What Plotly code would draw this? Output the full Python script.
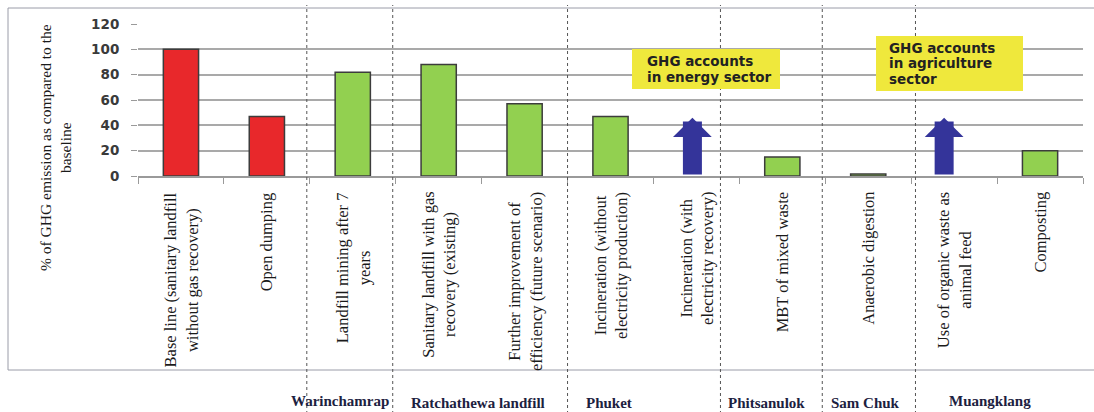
import plotly.graph_objects as go

# ---- data -------------------------------------------------------------
categories = [
    "Base line (sanitary landfill<br>without gas recovery)",
    "Open dumping",
    "Landfill mining after 7<br>years",
    "Sanitary landfill with gas<br>recovery (existing)",
    "Further improvement of<br>efficiency (future scenario)",
    "Incineration (without<br>electricity production)",
    "Incineration (with<br>electricity recovery)",
    "MBT of mixed waste",
    "Anaerobic digestion",
    "Use of organic waste as<br>animal feed",
    "Composting",
]
# % of GHG emission relative to the baseline (None = credited to another sector)
emission_pct = [100, 47, 82, 88, 57, 47, None, 15, 1.5, None, 20]
# scenarios whose emissions are accounted in another sector (upward arrows)
other_sector_pct = [None, None, None, None, None, None, 46, None, None, 46, None]

group_names = ["Warinchamrap", "Ratchathewa landfill", "Phuket",
               "Phitsanulok", "Sam Chuk", "Muangklang"]
group_members = [[2], [3, 4], [5, 6], [7], [8], [9, 10]]

sector_notes = [
    ["GHG accounts", "in energy sector"],
    ["GHG accounts", "in agriculture", "sector"],
]

y_ticks = [0, 20, 40, 60, 80, 100, 120]
y_title = "% of GHG emission as compared to the<br>baseline"

# ---- styling ------------------------------------------------------------
RED, GREEN, BLUE = "#e8282b", "#92d050", "#34349a"
YELLOW = "#efe83c"
GRID = "#a9a9a9"
bar_colors = [RED, RED] + [GREEN] * 9

W, H = 1094, 412
L, R, T, B = 138, 11, 24, 236
plot_w = W - L - R
plot_h = H - T - B


def px_x(px):
    return (px - L) / plot_w


def px_y(py):
    return (H - B - py) / plot_h


def idx_to_paper(i):
    return (i + 0.5) / len(categories)


fig = go.Figure()

fig.add_trace(go.Bar(
    x=list(range(len(categories))),
    y=emission_pct,
    width=0.41,
    marker=dict(color=bar_colors, line=dict(color="#3c3c3c", width=1.5)),
    hoverinfo="skip",
))

# upward arrows for emissions credited to another sector
arrow_shift = {6: -4, 9: -10}
for i, v in enumerate(other_sector_pct):
    if v is None:
        continue
    fig.add_annotation(
        x=i, y=v, ax=i, ay=0, xref="x", yref="y", axref="x", ayref="y",
        text="", showarrow=True, arrowhead=1, arrowwidth=19, arrowsize=0.34,
        arrowcolor=BLUE, xshift=arrow_shift.get(i, 0),
    )

# rotated category labels below the axis
for i, lab in enumerate(categories):
    fig.add_annotation(
        x=i, y=px_y(190), xref="x", yref="paper",
        text=lab, showarrow=False, textangle=-90, align="center",
        xanchor="center", yanchor="top",
        font=dict(family="Liberation Serif", size=16.5, color="#1a1a1a"),
    )

# y-axis title
fig.add_annotation(
    x=px_x(55), y=px_y(148), xref="paper", yref="paper",
    text=y_title, showarrow=False, textangle=-90, align="center",
    xanchor="center", yanchor="middle",
    font=dict(family="Liberation Serif", size=15.5, color="#1a1a1a"),
)

# outer frame
fig.add_shape(type="rect", xref="paper", yref="paper",
              x0=px_x(8), x1=px_x(1100), y0=px_y(370), y1=px_y(8),
              line=dict(color="#9a9ca8", width=1), fillcolor="rgba(0,0,0,0)",
              layer="below")

# dotted separators between sites
separators = [1.465, 2.465, 4.5, 6.28, 7.465, 8.55]
for s in separators:
    fig.add_shape(type="line", xref="paper", yref="paper",
                  x0=idx_to_paper(s), x1=idx_to_paper(s),
                  y0=px_y(H + 2), y1=px_y(5),
                  line=dict(color="#555555", width=1, dash="dot"))

# site names
group_xshift = [-13, -4, -44, -16, -3, -7]
group_ypx = [401, 403, 403, 403, 403, 401]
for name, members, dx, ypx in zip(group_names, group_members, group_xshift, group_ypx):
    fig.add_annotation(
        x=sum(members) / len(members), y=px_y(ypx), xref="x", yref="paper",
        text=name, showarrow=False, xshift=dx,
        xanchor="center", yanchor="middle",
        font=dict(family="Liberation Serif", size=15, color="#1c2140", weight="bold"),
    )

# yellow sector notes
note_boxes = [(632, 49, 780, 89), (876, 36, 1023, 91)]
note_left = [645, 887]
line_gap = 15.3
for lines, (x0, y0, x1, y1), xl in zip(sector_notes, note_boxes, note_left):
    fig.add_shape(type="rect", xref="paper", yref="paper",
                  x0=px_x(x0), x1=px_x(x1), y0=px_y(y1), y1=px_y(y0),
                  line=dict(width=0), fillcolor=YELLOW)
    cy = (y0 + y1) / 2
    n = len(lines)
    for k, ln in enumerate(lines):
        fig.add_annotation(
            x=px_x(xl), y=px_y(cy + (k - (n - 1) / 2) * line_gap),
            xref="paper", yref="paper", text=ln, showarrow=False,
            xanchor="left", yanchor="middle",
            font=dict(family="DejaVu Sans", size=13.5, color="#222222", weight="bold"),
        )

fig.update_layout(
    width=W, height=H,
    margin=dict(l=L, r=R, t=T, b=B),
    paper_bgcolor="white", plot_bgcolor="white",
    showlegend=False,
    bargap=0.59,
    xaxis=dict(
        range=[-0.5, len(categories) - 0.5],
        tickvals=[i - 0.5 for i in range(len(categories) + 1)],
        showticklabels=False, ticks="outside", ticklen=6, tickcolor="#9a9a9a",
        showline=True, linecolor="#9a9a9a", linewidth=1.5,
        showgrid=False, zeroline=False,
    ),
    yaxis=dict(
        range=[0, 120], tickvals=y_ticks,
        showgrid=True, gridcolor=GRID, gridwidth=1.5,
        ticks="outside", ticklen=6, tickcolor="#9a9a9a",
        tickfont=dict(family="DejaVu Sans", size=13.5, color="#3a3a3a", weight="bold"),
        ticklabelstandoff=9,
        showline=False, zeroline=False,
    ),
)

fig.write_html("out.html")
